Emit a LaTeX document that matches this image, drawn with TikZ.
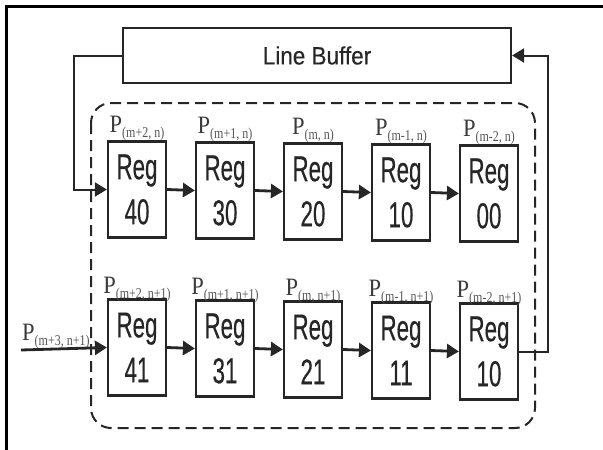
\documentclass[tikz,border=0pt]{standalone}
\usepackage{fontspec}
\usetikzlibrary{arrows.meta}
\newfontfamily\regfont[FakeStretch=0.62,FakeBold=0.4]{Liberation Sans}
\newfontfamily\lbfont[FakeStretch=0.9,FakeBold=0.3]{Liberation Sans}
\newfontfamily\pfont[FakeStretch=0.9]{Liberation Serif}
\newfontfamily\psubfont[FakeStretch=0.8]{Liberation Serif}
\definecolor{ln}{HTML}{262626}
\definecolor{ptx}{HTML}{3A3A3A}
\definecolor{psx}{HTML}{555555}
\newcommand{\plab}[1]{{\pfont\fontsize{25}{27}\selectfont P}\raisebox{-5pt}{\psubfont\fontsize{15}{17}\selectfont\color{psx}(#1)}}
\tikzset{
  regbox/.style={draw=ln, line width=2.2pt, minimum width=58pt, minimum height=96pt,
    inner sep=0pt, align=center, text=ln, font=\regfont\fontsize{36}{45}\selectfont},
  plabel/.style={anchor=base, inner sep=0pt, text=ptx},
  headtip/.style={-{Triangle[length=12pt,width=14pt]}},
  arr/.style={draw=ln, line width=2.8pt, headtip},
  fbarr/.style={draw=ln, line width=2pt, headtip}
}
\begin{document}
\begin{tikzpicture}[x=1pt,y=-1pt]
\useasboundingbox (0,0) rectangle (603,450);
% frame
\draw[line width=3pt, black] (603,6) -- (6,6) -- (6,450);
% line buffer
\node[draw=ln, line width=2.2pt, minimum width=388pt, minimum height=55pt, inner sep=0pt,
  text=ln, font=\lbfont\fontsize{25}{27}\selectfont] (lb) at (317,55.5) {Line Buffer};
% dashed region
\draw[draw=ln, line width=2pt, dash pattern=on 11pt off 6pt, rounded corners=20pt]
  (91,103) rectangle (535,428);
% registers
\foreach \t/\b/\pt/\pb [count=\i from 0] in
  {40/41/{m+2, n}/{m+2, n+1},
   30/31/{m+1, n}/{m+1, n+1},
   20/21/{m, n}/{m, n+1},
   10/11/{m-1, n}/{m-1, n+1},
   00/10/{m-2, n}/{m-2, n+1}}{
  \node[regbox] (top\i) at ({137+88*\i},{189.5+\i}) {Reg\\\t};
  \node[regbox] (bot\i) at ({137+88*\i},{347.5+\i}) {Reg\\\b};
  \node[plabel] (ptop\i) at ([yshift=8pt]top\i.north) {\plab{\pt}};
  \node[plabel] (pbot\i) at ([yshift=5pt]bot\i.north) {\plab{\pb}};
}
\foreach \i/\j in {0/1,1/2,2/3,3/4}{
  \draw[arr] (top\i.east) -- (top\j.west);
  \draw[arr] (bot\i.east) -- (bot\j.west);
}
% input
\coordinate (in) at (21,350);
\node[anchor=base west, inner sep=0pt, text=ptx] (pin) at (22,340) {\plab{m+3, n+1}};
\draw[arr] (in) -- (bot0.west);
% feedback loops
\draw[fbarr] (lb.west) -- ++(-48pt,0) |- (top0.west);
\draw[fbarr] (bot4.east) -- ++(29pt,0) |- (lb.east);
\end{tikzpicture}
\end{document}
